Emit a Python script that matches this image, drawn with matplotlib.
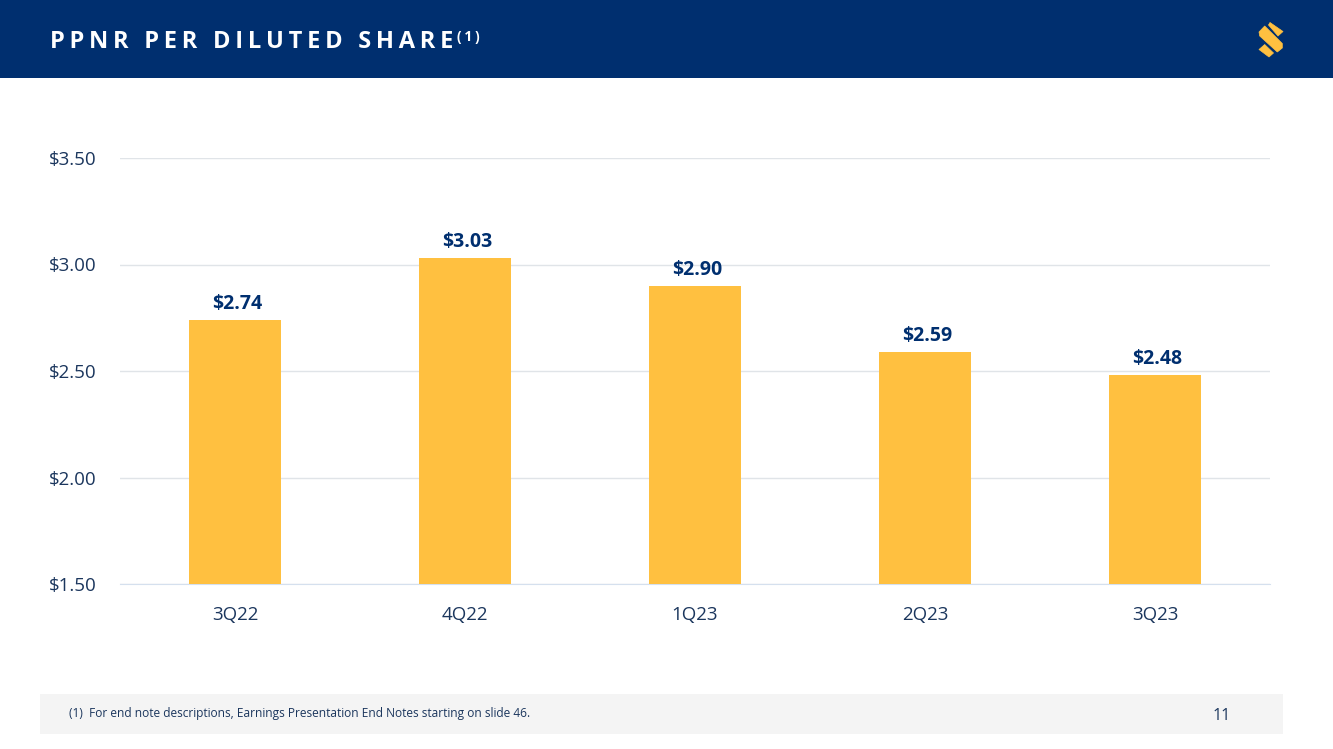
import matplotlib
matplotlib.use("Agg")
import matplotlib.pyplot as plt
from matplotlib.patches import Polygon, Rectangle

plt.rcParams['font.family'] = ['Open Sans', 'DejaVu Sans']

# data
quarters = ['3Q22', '4Q22', '1Q23', '2Q23', '3Q23']
ppnr = [2.74, 3.03, 2.90, 2.59, 2.48]
yticks = [1.50, 2.00, 2.50, 3.00, 3.50]

navy = '#002F6F'
text_col = '#1B365D'
gold = '#FFC040'
W, H = 1333, 749

fig = plt.figure(figsize=(W / 100, H / 100), dpi=100, facecolor='white')

# background layer in pixel coords (header, footer, logo)
bg = fig.add_axes([0, 0, 1, 1])
bg.set_xlim(0, W)
bg.set_ylim(H, 0)
bg.axis('off')
bg.add_patch(Rectangle((0, 0), W, 78, fc=navy, ec='none'))
bg.add_patch(Rectangle((40, 694), 1243, 40, fc='#F4F4F4', ec='none'))

# logo pieces
logo_parts = [
    [(1270, 22.5), (1283, 31.5), (1278, 36), (1268.5, 25)],
    [(1259, 32), (1264.7, 26), (1282.3, 43.5), (1282.3, 48), (1277.3, 52), (1259.7, 36)],
    [(1259, 49.5), (1264.7, 44.5), (1273.5, 53), (1269, 57)],
]
for part in logo_parts:
    bg.add_patch(Polygon(part, closed=True, fc=gold, ec=gold, lw=0.5, joinstyle='round'))

title = '\u2009'.join('PPNR PER DILUTED SHARE')
bg.text(50, 42, title, color='white', fontsize=17, fontweight='bold', va='center', ha='left')
bg.text(457, 37, '\u2009'.join('(1)'), color='white', fontsize=10, fontweight='bold', va='center', ha='left')
bg.text(69, 713.5, '(1)  For end note descriptions, Earnings Presentation End Notes starting on slide 46.',
        color=text_col, fontsize=8.6, va='center', ha='left')
bg.text(1222, 716, '11', color=text_col, fontsize=11.5, va='center', ha='center')

# chart
ax = fig.add_axes([120 / W, 1 - 584 / H, 1150 / W, 426 / H])
ax.patch.set_alpha(0)
ax.bar(quarters, ppnr, width=0.4, color=gold, zorder=3)
ax.set_xlim(-0.5, 4.5)
ax.set_ylim(1.5, 3.5)
ax.set_yticks(yticks)
ax.set_yticklabels([f'${v:.2f}' for v in yticks])
ax.grid(axis='y', color='#E0E4E8', lw=1, zorder=0)
ax.tick_params(length=0, labelsize=13.5, labelcolor=text_col)
ax.tick_params(axis='y', pad=17)
ax.tick_params(axis='x', pad=16)
for s in ['top', 'left', 'right']:
    ax.spines[s].set_visible(False)
ax.spines['bottom'].set_color('#D5E0EE')

for i, v in enumerate(ppnr):
    ax.annotate(f'${v:.2f}', (i, v), xytext=(1.5, 4.5), textcoords='offset points',
                ha='center', va='bottom', fontsize=14, fontweight='bold', color=navy)

fig.savefig('out.png', dpi=100)
